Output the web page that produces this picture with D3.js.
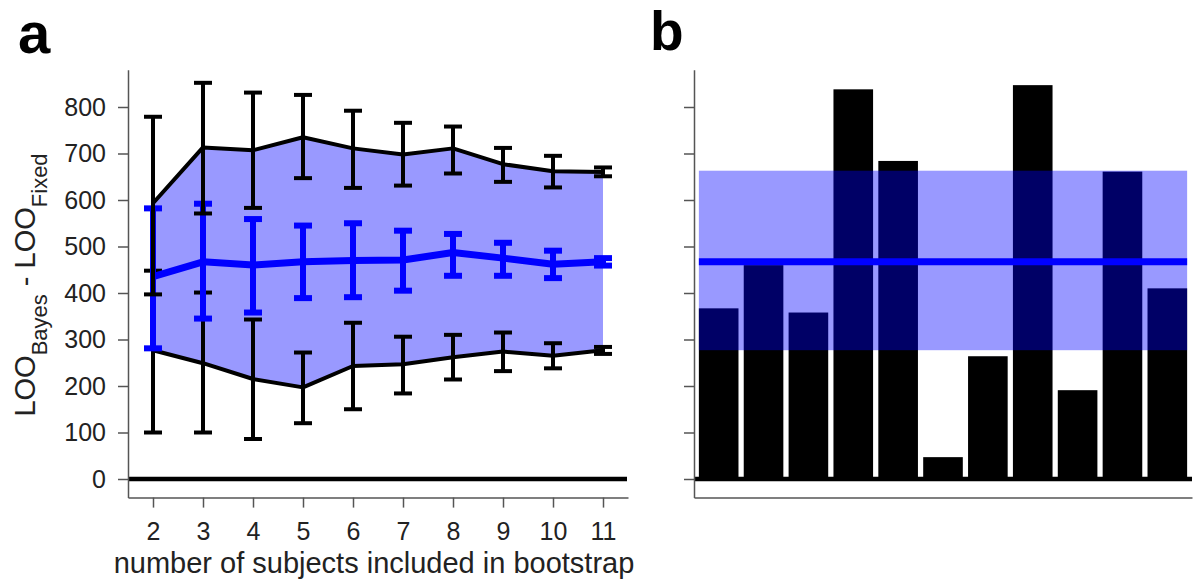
<!DOCTYPE html>
<html>
<head>
<meta charset="utf-8">
<script src="https://cdn.jsdelivr.net/npm/d3@7"></script>
<style>
  html, body { margin: 0; padding: 0; background: #fff; }
  svg { display: block; font-family: "Liberation Sans", Arial, Helvetica, sans-serif; }
</style>
</head>
<body>
<svg id="chart" width="1197" height="582"></svg>
<script>
// ---------------- data ----------------
const nSubjects = [2, 3, 4, 5, 6, 7, 8, 9, 10, 11];

// upper (black) series
const upperMean = [593, 713, 707, 735, 711, 698, 711, 677, 662, 660];
const upperLo   = [397, 571, 583, 647, 626, 631, 657, 639, 627, 651];
const upperHi   = [779, 852, 831, 826, 792, 766, 758, 712, 695, 670];

// middle (blue) series
const midMean = [435, 467, 460, 467, 470, 471, 487, 475, 462, 467];
const midLo   = [281, 345, 358, 389, 391, 405, 437, 437, 432, 459];
const midHi   = [582, 592, 559, 545, 550, 534, 527, 508, 491, 475];

// lower (black) series
const lowerMean = [277, 249, 215, 197, 243, 247, 262, 274, 265, 277];
const lowerLo   = [100, 100, 86, 120, 150, 184, 214, 232, 238, 269];
const lowerHi   = [448, 401, 343, 272, 336, 306, 310, 315, 292, 284];

// panel b: per-subject differences
const subjects = [1, 2, 3, 4, 5, 6, 7, 8, 9, 10, 11];
const subjectDiff = [367, 460, 358, 838, 684, 47, 264, 847, 191, 661, 410];
const bandMean = [467];
const bandRange = [277, 663];

const yTicks = [0, 100, 200, 300, 400, 500, 600, 700, 800];
const xTicks = [2, 3, 4, 5, 6, 7, 8, 9, 10, 11];

// ---------------- setup ----------------
const svg = d3.select("#chart");
const BLUE = "#0000ff";
const FILL = "rgba(0,0,255,0.4)";
const AXIS = "#555";

const y = d3.scaleLinear().domain([-40, 880]).range([497.6, 69.8]);
const xa = d3.scaleLinear().domain([1.5, 11.5]).range([128, 628]);
const xb = d3.scaleLinear().domain([0.45, 11.55]).range([694, 1192]);

// ---------------- panel a ----------------
const ga = svg.append("g");

const areaGen = d3.area()
  .x((d, i) => xa(nSubjects[i]))
  .y0((d, i) => y(lowerMean[i]))
  .y1((d, i) => y(upperMean[i]));
ga.append("path").datum(nSubjects).attr("d", areaGen).attr("fill", FILL);

// zero line
ga.append("line")
  .attr("x1", xa(1.5)).attr("x2", xa(11.5) - 1)
  .attr("y1", y(0)).attr("y2", y(0))
  .attr("stroke", "#000").attr("stroke-width", 4.5);

function series(g, mean, lo, hi, color, lw, ew, capW) {
  const lineGen = d3.line().x((d, i) => xa(nSubjects[i])).y(d => y(d));
  g.append("path").datum(mean).attr("d", lineGen)
    .attr("fill", "none").attr("stroke", color).attr("stroke-width", lw)
    .attr("stroke-linejoin", "round");
  const eb = g.append("g").selectAll("g").data(nSubjects).join("g");
  eb.append("line")
    .attr("x1", d => xa(d)).attr("x2", d => xa(d))
    .attr("y1", (d, i) => y(lo[i])).attr("y2", (d, i) => y(hi[i]))
    .attr("stroke", color).attr("stroke-width", ew);
  [lo, hi].forEach(arr => {
    eb.append("line")
      .attr("x1", d => xa(d) - capW).attr("x2", d => xa(d) + capW)
      .attr("y1", (d, i) => y(arr[i])).attr("y2", (d, i) => y(arr[i]))
      .attr("stroke", color).attr("stroke-width", ew);
  });
}
series(ga, lowerMean, lowerLo, lowerHi, "#000", 4, 4, 9);
series(ga, midMean, midLo, midHi, BLUE, 7, 6, 9);
series(ga, upperMean, upperLo, upperHi, "#000", 4, 4, 9);

// axes a
const yAxisA = ga.append("g").attr("transform", `translate(${xa(1.5)},0)`)
  .call(d3.axisLeft(y).tickValues(yTicks).tickSize(10).tickSizeOuter(0).tickPadding(12));
const xAxisA = ga.append("g").attr("transform", `translate(0,${y(-40)})`)
  .call(d3.axisBottom(xa).tickValues(xTicks).tickSize(10).tickSizeOuter(0).tickPadding(15));
[yAxisA, xAxisA].forEach(ax => {
  ax.select(".domain").attr("stroke", AXIS).attr("stroke-width", 1.5);
  ax.selectAll(".tick line").attr("stroke", AXIS).attr("stroke-width", 1.5);
  ax.selectAll(".tick text").attr("fill", "#222").attr("font-size", 25)
    .attr("font-family", "'Liberation Sans', Arial, Helvetica, sans-serif");
});

// x label
ga.append("text")
  .attr("x", 374).attr("y", 573)
  .attr("text-anchor", "middle").attr("font-size", 29).attr("fill", "#222")
  .text("number of subjects included in bootstrap");

// y label with subscripts
const yl = ga.append("text")
  .attr("transform", "translate(35,285) rotate(-90)")
  .attr("text-anchor", "middle").attr("font-size", 29).attr("fill", "#222");
yl.append("tspan").text("LOO");
yl.append("tspan").attr("font-size", 22).attr("dy", 12).text("Bayes");
yl.append("tspan").attr("dy", -12).text(" - LOO");
yl.append("tspan").attr("font-size", 22).attr("dy", 12).text("Fixed");

// ---------------- panel b ----------------
const gb = svg.append("g");
const barW = 0.883;
gb.selectAll("rect.bar").data(subjects).join("rect").attr("class", "bar")
  .attr("x", d => xb(d - barW / 2))
  .attr("width", xb(barW) - xb(0))
  .attr("y", (d, i) => y(subjectDiff[i]))
  .attr("height", (d, i) => y(0) - y(subjectDiff[i]))
  .attr("fill", "#000");

gb.append("rect")
  .attr("x", xb(1 - barW / 2)).attr("width", xb(11 + barW / 2) - xb(1 - barW / 2))
  .attr("y", y(bandRange[1])).attr("height", y(bandRange[0]) - y(bandRange[1]))
  .attr("fill", FILL);

gb.selectAll("line.mean").data(bandMean).join("line").attr("class", "mean")
  .attr("x1", xb(1 - barW / 2)).attr("x2", xb(11 + barW / 2))
  .attr("y1", d => y(d)).attr("y2", d => y(d))
  .attr("stroke", BLUE).attr("stroke-width", 7);

gb.append("line")
  .attr("x1", xb(0.45)).attr("x2", xb(11.55))
  .attr("y1", y(0)).attr("y2", y(0))
  .attr("stroke", "#000").attr("stroke-width", 4.5);

const yAxisB = gb.append("g").attr("transform", `translate(${xb(0.45)},0)`)
  .call(d3.axisLeft(y).tickValues(yTicks).tickSize(10).tickSizeOuter(0).tickFormat(""));
const xAxisB = gb.append("g").attr("transform", `translate(0,${y(-40)})`)
  .call(d3.axisBottom(xb).tickValues([]).tickSizeOuter(0));
[yAxisB, xAxisB].forEach(ax => {
  ax.select(".domain").attr("stroke", AXIS).attr("stroke-width", 1.5);
  ax.selectAll(".tick line").attr("stroke", AXIS).attr("stroke-width", 1.5);
});

// panel letters
svg.append("text").attr("x", 18).attr("y", 53).attr("font-size", 58)
  .attr("font-weight", "bold").attr("fill", "#000").text("a");
svg.append("text").attr("x", 650).attr("y", 50).attr("font-size", 55)
  .attr("font-weight", "bold").attr("fill", "#000").text("b");
</script>
</body>
</html>
